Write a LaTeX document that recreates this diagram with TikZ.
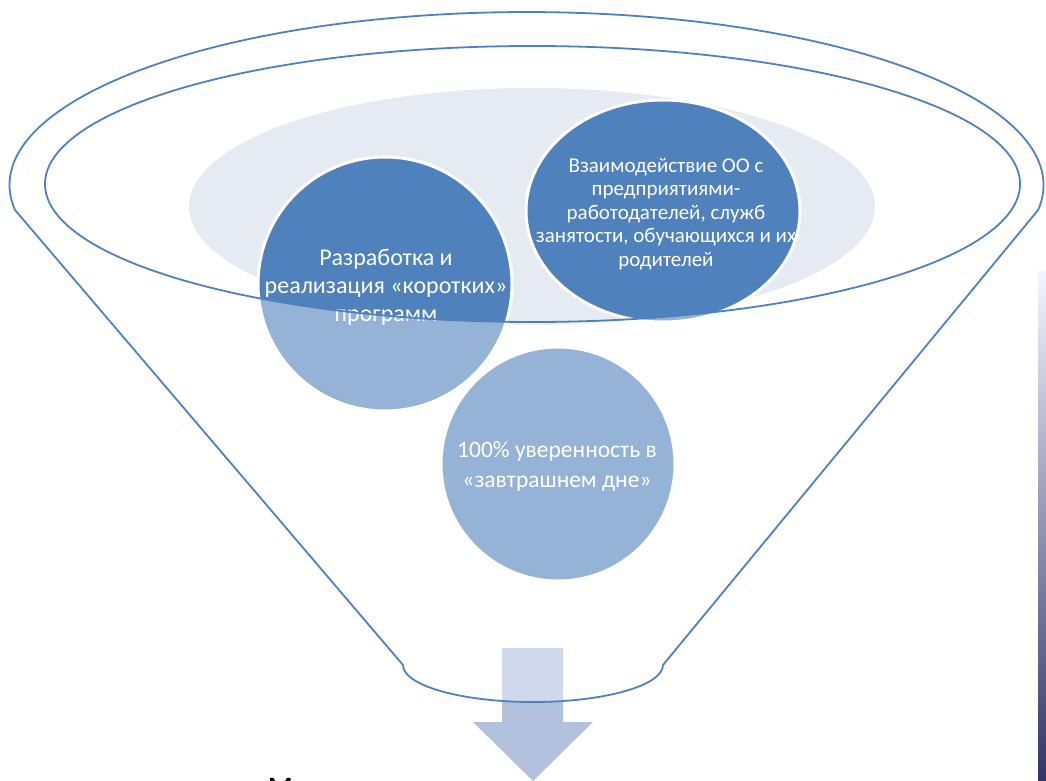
\documentclass[tikz,border=0pt]{standalone}
\usepackage{fontspec}
\setmainfont{Carlito}
\definecolor{darkblue}{RGB}{79,129,189}
\definecolor{paleblue}{RGB}{230,234,242}
\definecolor{arrowblue}{RGB}{178,193,222}
\tikzstyle{bubble}=[fill=darkblue, draw=white, line width=3pt]
\tikzstyle{bubbletext}=[white, align=center, inner sep=0pt]
\tikzstyle{funnel}=[draw=darkblue, line width=1.8pt]

\begin{document}
\begin{tikzpicture}[x=1pt, y=-1pt]
\useasboundingbox (0,0) rectangle (1046,781);
% Background
    \fill[paleblue] (532,206.5) ellipse [x radius=343pt, y radius=118.5pt];
% Bubbles
    \draw[bubble] (385,284) circle [radius=127pt];
    \draw[bubble] (663,211) ellipse [x radius=137pt, y radius=111pt];
    \draw[bubble] (558,464) circle [radius=117pt];
% Labels
    \node[bubbletext, font=\fontsize{24}{28}\selectfont] (razrab) at (386,287)
        {Разработка и\\реализация «коротких»\\программ};
    \node[bubbletext, font=\fontsize{21}{23.5}\selectfont] (vzaim) at (666,214)
        {Взаимодействие ОО с\\предприятиями-\\работодателей, служб\\занятости, обучающихся и их\\родителей};
    \node[bubbletext, font=\fontsize{23.5}{30}\selectfont] (uveren) at (557,466)
        {100\% уверенность в\\«завтрашнем дне»};
% Arrow
    \fill[arrowblue] (502,648) -- (563,648) -- (563,722) -- (593,722)
        -- (533,781) -- (473,722) -- (502,722) -- cycle;
% Funnel
    \fill[white, fill opacity=0.4, even odd rule]
        (15,210) arc[start angle=188.3, end angle=-8.3, x radius=517pt, y radius=173pt]
        -- (663,665) arc[start angle=0, end angle=-180, x radius=130pt, y radius=37pt]
        -- cycle
        (532.5,184) ellipse [x radius=487.5pt, y radius=138pt];
    \draw[funnel, line join=round]
        (15,210) arc[start angle=188.3, end angle=-8.3, x radius=517pt, y radius=173pt]
        -- (663,665) arc[start angle=0, end angle=-180, x radius=130pt, y radius=37pt]
        -- cycle;
    \draw[funnel] (532.5,184) ellipse [x radius=487.5pt, y radius=138pt];
% Edge of the page
    \shade[top color=white!96!blue, middle color=blue!12!gray!30, bottom color=black!75!blue!80]
        (1038,271) rectangle (1046,781);
    \node[font=\bfseries\fontsize{28}{34}\selectfont, anchor=base west, inner sep=0pt] (title) at (268,796.5) {М};
\end{tikzpicture}
\end{document}
